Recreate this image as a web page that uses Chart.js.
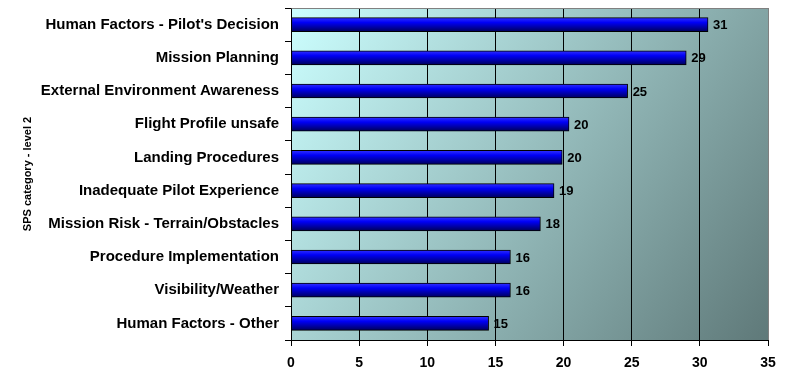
<!DOCTYPE html>
<html>
<head>
<meta charset="utf-8">
<script src="https://cdn.jsdelivr.net/npm/chart.js@4/dist/chart.umd.min.js"></script>
<style>
  html, body { margin: 0; padding: 0; background: #ffffff; }
  #wrap { width: 792px; height: 378px; position: relative; }
</style>
</head>
<body>
<div id="wrap"><canvas id="c" width="792" height="378"></canvas></div>
<script>
const categories = [
  "Human Factors - Pilot's Decision",
  "Mission Planning",
  "External Environment Awareness",
  "Flight Profile unsafe",
  "Landing Procedures",
  "Inadequate Pilot Experience",
  "Mission Risk - Terrain/Obstacles",
  "Procedure Implementation",
  "Visibility/Weather",
  "Human Factors - Other"
];
const values = [30.6, 29.0, 24.7, 20.4, 19.9, 19.3, 18.3, 16.1, 16.1, 14.5];
const valueLabels = ["31", "29", "25", "20", "20", "19", "18", "16", "16", "15"];
const xTicks = [0, 5, 10, 15, 20, 25, 30, 35];
const yTitle = "SPS category - level 2";

const FONT = "'Liberation Sans', Arial, sans-serif";

const bgPlugin = {
  id: 'plotBg',
  beforeDraw(chart) {
    const a = chart.chartArea;
    if (!a) return;
    const ctx = chart.ctx;
    ctx.save();
    const g = ctx.createLinearGradient(a.left, a.top, a.right, a.bottom);
    g.addColorStop(0, '#ccffff');
    g.addColorStop(1, '#5f7979');
    ctx.fillStyle = g;
    ctx.fillRect(a.left, a.top, a.right - a.left, a.bottom - a.top);
    ctx.restore();
  },
  afterDraw(chart) {
    const a = chart.chartArea;
    const ctx = chart.ctx;
    ctx.save();
    ctx.strokeStyle = '#808080';
    ctx.lineWidth = 1;
    ctx.beginPath();
    ctx.moveTo(Math.round(a.left) + 0.5, Math.round(a.top) + 0.5);
    ctx.lineTo(Math.round(a.right) + 0.5, Math.round(a.top) + 0.5);
    ctx.lineTo(Math.round(a.right) + 0.5, Math.round(a.bottom));
    ctx.stroke();
    ctx.restore();
  }
};

const valuePlugin = {
  id: 'valueLabels',
  afterDatasetsDraw(chart) {
    const meta = chart.getDatasetMeta(0);
    const ctx = chart.ctx;
    ctx.save();
    ctx.font = "bold 13px " + FONT;
    ctx.fillStyle = '#000000';
    ctx.textAlign = 'left';
    ctx.textBaseline = 'middle';
    meta.data.forEach((el, i) => {
      ctx.fillText(valueLabels[i], el.x + 5, el.y + 1);
    });
    ctx.restore();
  }
};

function barFill(context) {
  const chart = context.chart;
  const ys = chart.scales && chart.scales.y;
  if (!ys || context.dataIndex === undefined) return '#0000ff';
  const cy = ys.getPixelForValue(context.dataIndex);
  if (!isFinite(cy)) return '#0000ff';
  const h = 14;
  const g = chart.ctx.createLinearGradient(0, cy - h / 2, 0, cy + h / 2);
  g.addColorStop(0, '#3030ff');
  g.addColorStop(0.35, '#0000f5');
  g.addColorStop(1, '#00005a');
  return g;
}

new Chart(document.getElementById('c'), {
  type: 'bar',
  data: {
    labels: categories,
    datasets: [{
      data: values,
      backgroundColor: barFill,
      borderColor: '#000000',
      borderWidth: 1,
      borderSkipped: false,
      barThickness: 14
    }]
  },
  options: {
    indexAxis: 'y',
    responsive: false,
    animation: false,
    devicePixelRatio: 1,
    layout: { padding: { top: 8, right: 24, bottom: 0, left: 0 } },
    plugins: {
      legend: { display: false },
      tooltip: { enabled: false }
    },
    scales: {
      x: {
        type: 'linear',
        min: 0,
        max: 35,
        afterBuildTicks(scale) { scale.ticks = xTicks.map(v => ({ value: v })); },
        afterFit(scale) { scale.height = 38; scale.paddingLeft = 0; scale.paddingRight = 0; },
        ticks: {
          color: '#000000',
          font: { family: FONT, size: 14, weight: 'bold' },
          padding: 9,
          maxRotation: 0
        },
        grid: {
          color: (c) => (c.tick && c.tick.value === 35) ? '#808080' : '#000000',
          tickColor: '#000000',
          lineWidth: 1,
          tickLength: 6,
          drawOnChartArea: true
        },
        border: { color: '#000000', width: 1 }
      },
      y: {
        afterFit(scale) { scale.width = 291; scale.paddingTop = 0; scale.paddingBottom = 0; },
        ticks: {
          color: '#000000',
          font: { family: FONT, size: 15, weight: 'bold' },
          padding: 6
        },
        grid: {
          display: true,
          drawOnChartArea: false,
          offset: true,
          color: '#000000',
          tickLength: 6,
          lineWidth: 1
        },
        border: { color: '#000000', width: 1 },
        title: {
          display: true,
          text: yTitle,
          color: '#000000',
          font: { family: FONT, size: 11, weight: 'bold' },
          padding: { top: 21, bottom: 0 }
        }
      }
    }
  },
  plugins: [bgPlugin, valuePlugin]
});
</script>
</body>
</html>
